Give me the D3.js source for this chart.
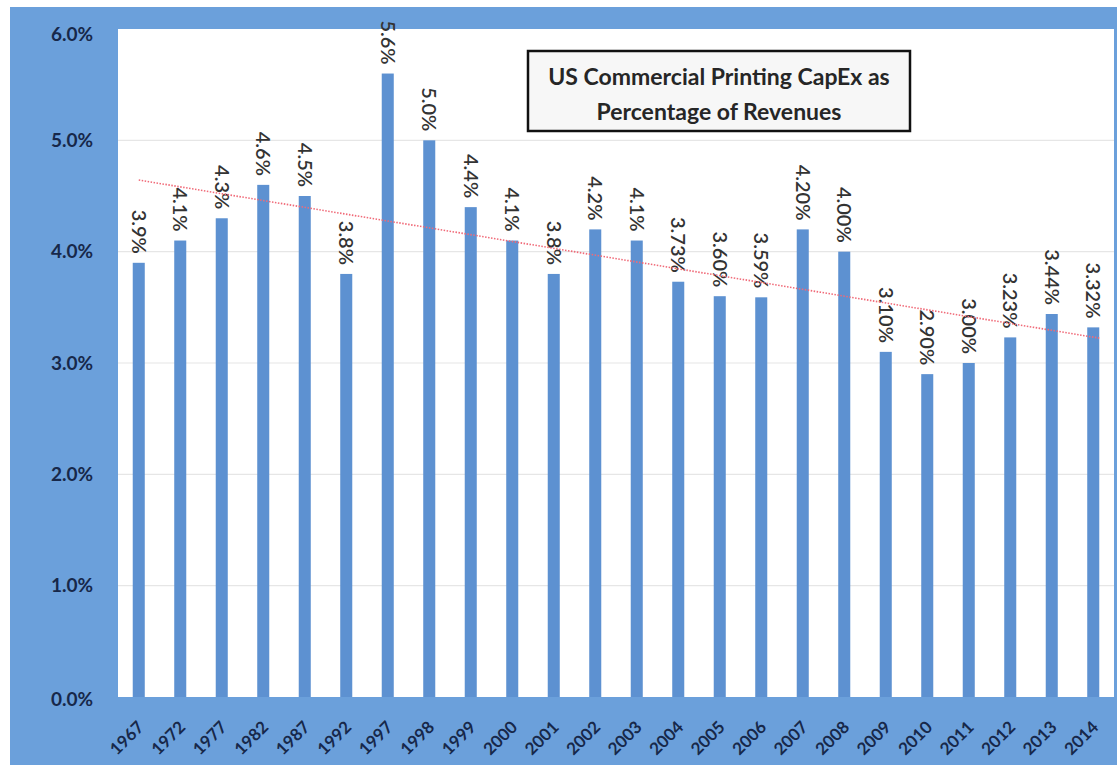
<!DOCTYPE html>
<html>
<head>
<meta charset="utf-8">
<script src="https://cdn.jsdelivr.net/npm/d3@7"></script>
<style>
  html, body { margin: 0; padding: 0; background: #ffffff; }
  svg { display: block; }
</style>
</head>
<body>
<svg id="chart" width="1120" height="765"></svg>
<script>
// Capital expenditure as a share of revenue, by year
const years = ["1967","1972","1977","1982","1987","1992","1997","1998","1999","2000","2001","2002",
               "2003","2004","2005","2006","2007","2008","2009","2010","2011","2012","2013","2014"];
const capexPct = [3.9, 4.1, 4.3, 4.6, 4.5, 3.8, 5.6, 5.0, 4.4, 4.1, 3.8, 4.2,
                  4.1, 3.73, 3.60, 3.59, 4.20, 4.00, 3.10, 2.90, 3.00, 3.23, 3.44, 3.32];
const valueLabels = ["3.9%","4.1%","4.3%","4.6%","4.5%","3.8%","5.6%","5.0%","4.4%","4.1%","3.8%","4.2%",
                     "4.1%","3.73%","3.60%","3.59%","4.20%","4.00%","3.10%","2.90%","3.00%","3.23%","3.44%","3.32%"];
const yTicks = [0, 1, 2, 3, 4, 5, 6];
const titleLines = ["US Commercial Printing CapEx as", "Percentage of Revenues"];

const svg = d3.select("#chart");
const plot = { left: 118, right: 1114, top: 29, bottom: 697 };
const font = "Lato, 'Open Sans', sans-serif";

// outer blue frame
svg.append("rect")
  .attr("x", 10).attr("y", 7).attr("width", 1107).attr("height", 758)
  .attr("fill", "#6ba0db");

// plot area
svg.append("rect")
  .attr("x", plot.left).attr("y", plot.top)
  .attr("width", plot.right - plot.left).attr("height", plot.bottom - plot.top)
  .attr("fill", "#ffffff");

const x = d3.scaleBand().domain(years).range([plot.left, plot.right]).paddingInner(0.71).paddingOuter(0.355);
const y = d3.scaleLinear().domain([0, 6]).range([plot.bottom, plot.top]);

// gridlines
svg.append("g")
  .selectAll("line")
  .data(yTicks.filter(t => t > 0 && t < 6))
  .join("line")
  .attr("x1", plot.left).attr("x2", plot.right)
  .attr("y1", d => y(d)).attr("y2", d => y(d))
  .attr("stroke", "#e6e6e6").attr("stroke-width", 1.2);

// y axis labels
const yAxis = d3.axisLeft(y).tickValues(yTicks).tickSize(0).tickPadding(0)
  .tickFormat(d => d.toFixed(1) + "%");
const yg = svg.append("g").attr("transform", `translate(93,0)`).call(yAxis);
yg.select(".domain").remove();
yg.selectAll("text")
  .attr("font-family", font)
  .attr("font-weight", "bold").attr("font-size", 19)
  .attr("fill", "#17284a");
yg.selectAll(".tick").filter(d => d === 6).select("text").attr("dy", "0.6em");
yg.selectAll(".tick").filter(d => d === 0).select("text").attr("dy", "0.45em");

// bars
svg.append("g")
  .selectAll("rect")
  .data(capexPct)
  .join("rect")
  .attr("x", (d, i) => x(years[i]))
  .attr("y", d => y(d))
  .attr("width", x.bandwidth())
  .attr("height", d => y(0) - y(d))
  .attr("fill", "#5d91d1");

// value labels, rotated to read downward
svg.append("g")
  .selectAll("text")
  .data(capexPct)
  .join("text")
  .attr("transform", (d, i) => `translate(${x(years[i]) + x.bandwidth() / 2},${y(d) - 9}) rotate(90)`)
  .attr("text-anchor", "end")
  .attr("dy", "0.36em")
  .attr("font-family", font)
  .attr("font-size", 20)
  .attr("font-weight", 600)
  .attr("fill", "#333333")
  .text((d, i) => valueLabels[i]);

// linear trendline (least squares over the bar order)
const n = capexPct.length;
const meanI = d3.mean(capexPct, (d, i) => i);
const meanV = d3.mean(capexPct);
const slope = d3.sum(capexPct, (d, i) => (i - meanI) * (d - meanV)) /
              d3.sum(capexPct, (d, i) => (i - meanI) * (i - meanI));
const intercept = meanV - slope * meanI;
const cx = i => x(years[i]) + x.bandwidth() / 2;
svg.append("line")
  .attr("x1", cx(0)).attr("y1", y(intercept))
  .attr("x2", cx(n - 1) + 6).attr("y2", y(intercept + slope * (n - 1 + 6 / x.step())))
  .attr("stroke", "#f06a78").attr("stroke-width", 1.6)
  .attr("stroke-dasharray", "1.5,1.5");

// x axis labels
const xg = svg.append("g").attr("transform", `translate(0,${plot.bottom})`);
xg.selectAll("text")
  .data(years)
  .join("text")
  .attr("transform", d => `translate(${x(d) + x.bandwidth() / 2 + 2},${27}) rotate(-45)`)
  .attr("text-anchor", "end")
  .attr("dy", "0.35em")
  .attr("font-family", font)
  .attr("font-weight", "bold").attr("font-size", 17)
  .attr("fill", "#17284a")
  .text(d => d);

// title box
const box = svg.append("g");
box.append("rect")
  .attr("x", 528).attr("y", 51).attr("width", 382).attr("height", 80)
  .attr("fill", "#f7f7f7").attr("stroke", "#111111").attr("stroke-width", 2.5);
box.selectAll("text")
  .data(titleLines)
  .join("text")
  .attr("x", 719)
  .attr("y", (d, i) => 85 + i * 35)
  .attr("text-anchor", "middle")
  .attr("font-family", font)
  .attr("font-weight", "bold").attr("font-size", 23)
  .attr("fill", "#262626")
  .text(d => d);
</script>
</body>
</html>
